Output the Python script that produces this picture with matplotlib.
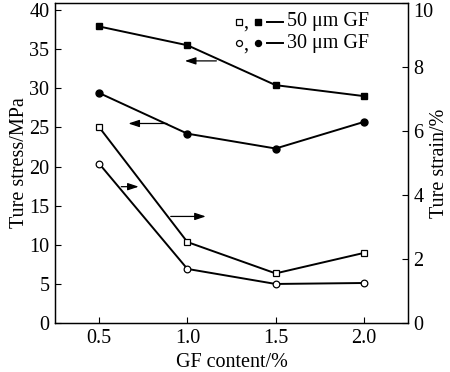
import matplotlib
matplotlib.use("Agg")
import matplotlib.pyplot as plt

# GF content (%)
gf = [0.5, 1.0, 1.5, 2.0]

# true stress (MPa), left axis
stress_50 = [37.9, 35.5, 30.4, 29.0]
stress_30 = [29.4, 24.2, 22.3, 25.7]

# true strain (%), right axis
strain_50 = [6.12, 2.53, 1.55, 2.19]
strain_30 = [4.98, 1.69, 1.22, 1.25]

plt.rcParams["font.family"] = ["Liberation Serif", "DejaVu Serif"]
plt.rcParams["font.size"] = 14.5

fig = plt.figure(figsize=(4.5, 3.72), dpi=100)
ax = fig.add_axes([55 / 450, 1 - 323 / 372, 353 / 450, 320 / 372])
ax2 = ax.twinx()

lw = 1.4
ax.plot(gf, stress_50, "-s", color="black", lw=lw, ms=4.5, mfc="black")
ax.plot(gf, stress_30, "-o", color="black", lw=lw, ms=5, mfc="black")
ax2.plot(gf, strain_50, "-s", color="black", lw=lw, ms=4.5, mfc="white", mew=0.9)
ax2.plot(gf, strain_30, "-o", color="black", lw=lw, ms=4.8, mfc="white", mew=0.9)

ax.set_xlim(0.25, 2.25)
ax.set_ylim(0, 40.9)
ax2.set_ylim(0, 10)
ax.set_xticks(gf)
ax.set_xticklabels(["0.5", "1.0", "1.5", "2.0"])
ax.set_yticks(range(0, 41, 5))
ax2.set_yticks(range(0, 11, 2), [str(v) for v in range(0, 11, 2)])
# top label sits against the figure edge, keep it inside
ax2.get_yticklabels()[-1].set_verticalalignment("top")

ax.tick_params(direction="in", length=4.5, width=0.8, pad=4)
ax2.tick_params(direction="in", length=4.5, width=0.8, pad=4)
for a in (ax, ax2):
    for s in a.spines.values():
        s.set_linewidth(0.9)

ax.set_xlabel("GF content/%", labelpad=4)
ax.set_ylabel("Ture stress/MPa", labelpad=0)
ax2.set_ylabel("Ture strain/%", va="center")
ax2.yaxis.set_label_coords(1.09, 0.5)

# arrows showing which axis each pair of curves belongs to
arr = dict(arrowstyle="-|>,head_length=0.45,head_width=0.15", color="black", lw=0.9)
ax.annotate("", xy=(0.97, 33.5), xytext=(1.18, 33.5), arrowprops=arr)
ax.annotate("", xy=(0.65, 25.5), xytext=(0.90, 25.5), arrowprops=arr)
ax2.annotate("", xy=(0.74, 4.26), xytext=(0.61, 4.26), arrowprops=arr)
ax2.annotate("", xy=(1.12, 3.33), xytext=(0.89, 3.33), arrowprops=arr)

# legend drawn by hand: open, filled marker and line
rows = [("s", "50 μm GF", 1 - 18.7 / 320), ("o", "30 μm GF", 1 - 40.3 / 320)]
for m, label, yy in rows:
    ax.plot([0.521], [yy], m, transform=ax.transAxes, color="black",
            mfc="white", ms=4.3, mew=0.9, clip_on=False)
    ax.text(0.533, yy - 0.005, ",", transform=ax.transAxes, va="center", ha="left")
    ax.plot([0.575], [yy], m, transform=ax.transAxes, color="black",
            mfc="black", ms=4.3, clip_on=False)
    ax.plot([0.600, 0.646], [yy, yy], "-", transform=ax.transAxes,
            color="black", lw=lw)
    ax.text(0.657, yy, label, transform=ax.transAxes, va="center", ha="left")

fig.savefig("out.png", dpi=100)
